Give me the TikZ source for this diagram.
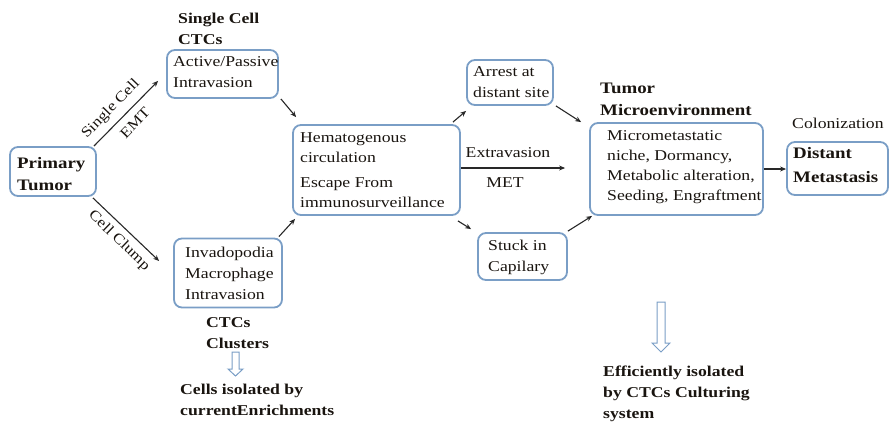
\documentclass[tikz,border=0pt]{standalone}
\usepackage{fontspec}
\setmainfont[FakeStretch=1.18]{Liberation Serif}
\usetikzlibrary{arrows.meta}
\definecolor{boxblue}{RGB}{122,158,198}
\definecolor{arrgray}{RGB}{40,40,40}
\definecolor{txt}{RGB}{25,20,15}
\hyphenpenalty=10000
\exhyphenpenalty=10000
\begin{document}
\begin{tikzpicture}[x=1pt,y=-1pt,
  box/.style={draw=boxblue, line width=1.8pt, rounded corners=8pt, inner sep=0pt},
  btxt/.style={anchor=west, inner sep=0pt, align=left, text=txt, font=\fontsize{15}{21}\selectfont},
  bbtxt/.style={anchor=west, inner sep=0pt, align=left, text=txt, font=\fontsize{16}{23}\selectfont\bfseries},
  lbl/.style={align=left, inner sep=0pt, text=txt, font=\fontsize{15}{21}\selectfont\bfseries},
  plain/.style={inner sep=0pt, text=txt, font=\fontsize{15}{20}\selectfont},
  elbl/.style={inner sep=0pt, text=txt, font=\fontsize{14.5}{16}\selectfont},
  arr/.style={-{Stealth[length=6pt,width=5pt]}, line width=1.1pt, draw=arrgray},
  hollow/.style={draw=boxblue, fill=white, line width=1pt, line join=miter}
]
\useasboundingbox (0,0) rectangle (890,424);

% boxes
\node[box, minimum width=86pt, minimum height=49pt] (prim) at (53,171.5) {};
\node[box, minimum width=111pt, minimum height=48pt] (act) at (222.5,74) {};
\node[box, minimum width=108pt, minimum height=69pt] (inv) at (228,273) {};
\node[box, minimum width=167pt, minimum height=90pt] (hem) at (376.5,170) {};
\node[box, minimum width=86pt, minimum height=45pt] (arrest) at (510,82.5) {};
\node[box, minimum width=89pt, minimum height=47pt] (stuck) at (522.5,256.5) {};
\node[box, minimum width=173pt, minimum height=92pt] (tme) at (676.5,169) {};
\node[box, minimum width=101pt, minimum height=53pt] (dm) at (837.5,168.5) {};

% box texts
\node[bbtxt, font=\fontsize{16}{22}\selectfont\bfseries] (primt) at (17,174) {Primary\\Tumor};
\node[btxt] (actt) at (173,72.5) {Active/Passive\\Intravasion};
\node[btxt] (invt) at (185,273.5) {Invadopodia\\Macrophage\\Intravasion};
\node[btxt, font=\fontsize{15}{20}\selectfont] (hemt) at (300,170) {Hematogenous\\circulation\\[5pt]Escape From\\immunosurveillance};
\node[btxt] (arrestt) at (473,82.5) {Arrest at\\distant site};
\node[btxt] (stuckt) at (488,257.5) {Stuck in\\Capilary};
\node[btxt, font=\fontsize{15}{20}\selectfont] (tmet) at (607,167.5) {Micrometastatic\\niche, Dormancy,\\Metabolic alteration,\\Seeding, Engraftment};
\node[bbtxt, font=\fontsize{16}{24}\selectfont\bfseries] (dmt) at (793,165.5) {Distant\\Metastasis};

% labels
\node[lbl, anchor=west] (sclbl) at (178,28.5) {Single Cell\\CTCs};
\node[lbl, anchor=west] (ctccl) at (206,333) {CTCs\\Clusters};
\node[lbl, anchor=west] (cellsiso) at (180,400) {Cells isolated by\\currentEnrichments};
\node[lbl, anchor=west, font=\fontsize{16}{22}\selectfont\bfseries] (tmelbl) at (600,99) {Tumor\\Microenvironment};
\node[plain, anchor=west] (colon) at (792,123) {Colonization};
\node[lbl, anchor=west] (effiso) at (603,393.5) {Efficiently isolated\\by CTCs Culturing\\system};

% edge labels
\node[elbl, rotate=46] (lsc) at (111,109) {Single Cell};
\node[elbl, rotate=46] (lemt) at (135,123) {EMT};
\node[elbl, rotate=-44] (lcc) at (119,241) {Cell Clump};
\node[plain] (lext) at (508,153) {Extravasion};
\node[plain] (lmet) at (505,183) {MET};

% hollow arrows
\draw[hollow] (232,352) -- (239,352) -- (239,369) -- (243,369) -- (235.5,376) -- (228,369) -- (232,369) -- cycle;
\draw[hollow] (657,302) -- (665,302) -- (665,343) -- (670,343) -- (661,352) -- (652,343) -- (657,343) -- cycle;

% connectors
\draw[arr] ([shift={(-3,0)}]prim.north east) -- ([shift={(-8,-18)}]act.south west);
\draw[arr] ([shift={(-4,1)}]prim.south east) -- ([shift={(-14,-12)}]inv.west);
\draw[arr] ([shift={(2,0)}]act.south east) -- ([shift={(4,-7)}]hem.north west);
\draw[arr] ([shift={(-4,-1)}]inv.north east) -- ([shift={(3,3)}]hem.south west);
\draw[arr] ([shift={(-8,-2)}]hem.north east) -- ([shift={(0,5)}]arrest.south west);
\draw[arr] ([shift={(-3,5)}]hem.south east) -- ([shift={(-6,-3)}]stuck.north west);
\draw[arr, shorten >=24pt] ([yshift=2pt]hem.east) -- ([yshift=2pt]hem.east -| tme.west);
\draw[arr] ([shift={(2,0)}]arrest.south east) -- ([shift={(-8,0)}]tme.north west);
\draw[arr] ([shift={(0,-1)}]stuck.north east) -- ([shift={(3,0)}]tme.south west);
\draw[arr] (tme.east) -- (tme.east -| dm.west);
\end{tikzpicture}
\end{document}
